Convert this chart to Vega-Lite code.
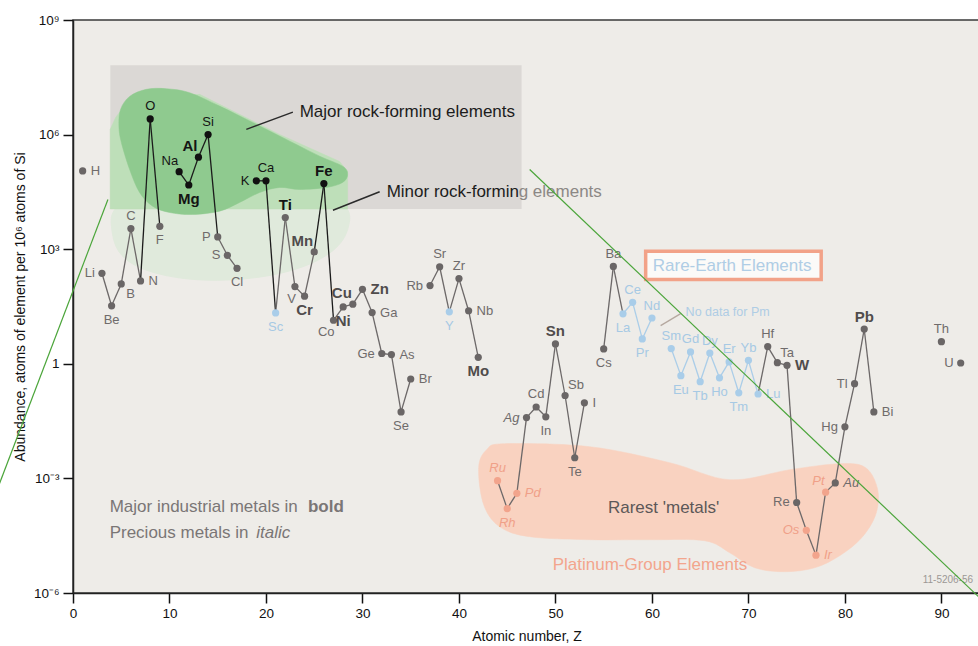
{
  "$schema": "https://vega.github.io/schema/vega-lite/v6.json",
  "width": 907,
  "height": 573,
  "autosize": {"type": "none"},
  "padding": {"left": 73, "top": 20, "right": 0, "bottom": 53},
  "background": "#ffffff",
  "config": {
    "font": "Liberation Sans",
    "view": {"stroke": "#3a3a3a", "strokeWidth": 1.5, "fill": "#eeece8"},
    "axis": {"grid": false}
  },
  "datasets": {
    "elements": [
      {"z": 1, "sym": "H", "v": 112000, "grp": "other", "metal": ""},
      {"z": 3, "sym": "Li", "v": 234, "grp": "other", "metal": ""},
      {"z": 4, "sym": "Be", "v": 33, "grp": "other", "metal": ""},
      {"z": 5, "sym": "B", "v": 123, "grp": "other", "metal": ""},
      {"z": 6, "sym": "C", "v": 3470, "grp": "other", "metal": ""},
      {"z": 7, "sym": "N", "v": 148, "grp": "other", "metal": ""},
      {"z": 8, "sym": "O", "v": 2570000, "grp": "major", "metal": ""},
      {"z": 9, "sym": "F", "v": 3980, "grp": "other", "metal": ""},
      {"z": 11, "sym": "Na", "v": 107000, "grp": "major", "metal": ""},
      {"z": 12, "sym": "Mg", "v": 47900, "grp": "major", "metal": "industrial"},
      {"z": 13, "sym": "Al", "v": 257000, "grp": "major", "metal": "industrial"},
      {"z": 14, "sym": "Si", "v": 1000000, "grp": "major", "metal": ""},
      {"z": 15, "sym": "P", "v": 2090, "grp": "other", "metal": ""},
      {"z": 16, "sym": "S", "v": 692, "grp": "other", "metal": ""},
      {"z": 17, "sym": "Cl", "v": 316, "grp": "other", "metal": ""},
      {"z": 19, "sym": "K", "v": 61700, "grp": "major", "metal": ""},
      {"z": 20, "sym": "Ca", "v": 61700, "grp": "major", "metal": ""},
      {"z": 21, "sym": "Sc", "v": 21.4, "grp": "ree", "metal": ""},
      {"z": 22, "sym": "Ti", "v": 6760, "grp": "other", "metal": "industrial"},
      {"z": 23, "sym": "V", "v": 105, "grp": "other", "metal": ""},
      {"z": 24, "sym": "Cr", "v": 58.9, "grp": "other", "metal": "industrial"},
      {"z": 25, "sym": "Mn", "v": 851, "grp": "other", "metal": "industrial"},
      {"z": 26, "sym": "Fe", "v": 52500, "grp": "major", "metal": "industrial"},
      {"z": 27, "sym": "Co", "v": 13.8, "grp": "other", "metal": ""},
      {"z": 28, "sym": "Ni", "v": 30.9, "grp": "other", "metal": "industrial"},
      {"z": 29, "sym": "Cu", "v": 36.3, "grp": "other", "metal": "industrial"},
      {"z": 30, "sym": "Zn", "v": 89, "grp": "other", "metal": "industrial"},
      {"z": 31, "sym": "Ga", "v": 21.9, "grp": "other", "metal": ""},
      {"z": 32, "sym": "Ge", "v": 1.86, "grp": "other", "metal": ""},
      {"z": 33, "sym": "As", "v": 1.74, "grp": "other", "metal": ""},
      {"z": 34, "sym": "Se", "v": 0.055, "grp": "other", "metal": ""},
      {"z": 35, "sym": "Br", "v": 0.4, "grp": "other", "metal": ""},
      {"z": 37, "sym": "Rb", "v": 112, "grp": "other", "metal": ""},
      {"z": 38, "sym": "Sr", "v": 347, "grp": "other", "metal": ""},
      {"z": 39, "sym": "Y", "v": 22.9, "grp": "ree", "metal": ""},
      {"z": 40, "sym": "Zr", "v": 170, "grp": "other", "metal": ""},
      {"z": 41, "sym": "Nb", "v": 24.5, "grp": "other", "metal": ""},
      {"z": 42, "sym": "Mo", "v": 1.48, "grp": "other", "metal": "industrial"},
      {"z": 44, "sym": "Ru", "v": 0.00087, "grp": "pge", "metal": "precious"},
      {"z": 45, "sym": "Rh", "v": 0.000162, "grp": "pge", "metal": "precious"},
      {"z": 46, "sym": "Pd", "v": 0.000407, "grp": "pge", "metal": "precious"},
      {"z": 47, "sym": "Ag", "v": 0.039, "grp": "other", "metal": "precious"},
      {"z": 48, "sym": "Cd", "v": 0.074, "grp": "other", "metal": ""},
      {"z": 49, "sym": "In", "v": 0.041, "grp": "other", "metal": ""},
      {"z": 50, "sym": "Sn", "v": 3.31, "grp": "other", "metal": "industrial"},
      {"z": 51, "sym": "Sb", "v": 0.148, "grp": "other", "metal": ""},
      {"z": 52, "sym": "Te", "v": 0.00347, "grp": "other", "metal": ""},
      {"z": 53, "sym": "I", "v": 0.095, "grp": "other", "metal": ""},
      {"z": 55, "sym": "Cs", "v": 2.45, "grp": "other", "metal": ""},
      {"z": 56, "sym": "Ba", "v": 355, "grp": "other", "metal": ""},
      {"z": 57, "sym": "La", "v": 20.4, "grp": "ree", "metal": ""},
      {"z": 58, "sym": "Ce", "v": 40.7, "grp": "ree", "metal": ""},
      {"z": 59, "sym": "Pr", "v": 4.47, "grp": "ree", "metal": ""},
      {"z": 60, "sym": "Nd", "v": 15.8, "grp": "ree", "metal": ""},
      {"z": 62, "sym": "Sm", "v": 2.51, "grp": "ree", "metal": ""},
      {"z": 63, "sym": "Eu", "v": 0.49, "grp": "ree", "metal": ""},
      {"z": 64, "sym": "Gd", "v": 2.04, "grp": "ree", "metal": ""},
      {"z": 65, "sym": "Tb", "v": 0.34, "grp": "ree", "metal": ""},
      {"z": 66, "sym": "Dy", "v": 1.91, "grp": "ree", "metal": ""},
      {"z": 67, "sym": "Ho", "v": 0.43, "grp": "ree", "metal": ""},
      {"z": 68, "sym": "Er", "v": 1.12, "grp": "ree", "metal": ""},
      {"z": 69, "sym": "Tm", "v": 0.174, "grp": "ree", "metal": ""},
      {"z": 70, "sym": "Yb", "v": 1.23, "grp": "ree", "metal": ""},
      {"z": 71, "sym": "Lu", "v": 0.162, "grp": "ree", "metal": ""},
      {"z": 72, "sym": "Hf", "v": 2.82, "grp": "other", "metal": ""},
      {"z": 73, "sym": "Ta", "v": 1.07, "grp": "other", "metal": ""},
      {"z": 74, "sym": "W", "v": 0.91, "grp": "other", "metal": "industrial"},
      {"z": 75, "sym": "Re", "v": 0.000234, "grp": "other", "metal": ""},
      {"z": 76, "sym": "Os", "v": 0.0000437, "grp": "pge", "metal": "precious"},
      {"z": 77, "sym": "Ir", "v": 0.0000098, "grp": "pge", "metal": "precious"},
      {"z": 78, "sym": "Pt", "v": 0.000437, "grp": "pge", "metal": "precious"},
      {"z": 79, "sym": "Au", "v": 0.00076, "grp": "other", "metal": "precious"},
      {"z": 80, "sym": "Hg", "v": 0.0224, "grp": "other", "metal": ""},
      {"z": 81, "sym": "Tl", "v": 0.302, "grp": "other", "metal": ""},
      {"z": 82, "sym": "Pb", "v": 8.13, "grp": "other", "metal": "industrial"},
      {"z": 83, "sym": "Bi", "v": 0.055, "grp": "other", "metal": ""},
      {"z": 90, "sym": "Th", "v": 3.8, "grp": "other", "metal": ""},
      {"z": 92, "sym": "U", "v": 1.05, "grp": "other", "metal": ""}
    ],
    "links": [
      {"a": 3, "b": 4}, {"a": 4, "b": 5}, {"a": 5, "b": 6}, {"a": 6, "b": 7}, {"a": 7, "b": 8}, {"a": 8, "b": 9},
      {"a": 11, "b": 12}, {"a": 12, "b": 13}, {"a": 13, "b": 14}, {"a": 14, "b": 15}, {"a": 15, "b": 16}, {"a": 16, "b": 17},
      {"a": 19, "b": 20}, {"a": 20, "b": 21}, {"a": 21, "b": 22}, {"a": 22, "b": 23}, {"a": 23, "b": 24}, {"a": 24, "b": 25},
      {"a": 25, "b": 26}, {"a": 26, "b": 27}, {"a": 27, "b": 28}, {"a": 28, "b": 29}, {"a": 29, "b": 30}, {"a": 30, "b": 31},
      {"a": 31, "b": 32}, {"a": 32, "b": 33}, {"a": 33, "b": 34}, {"a": 34, "b": 35},
      {"a": 37, "b": 38}, {"a": 38, "b": 39}, {"a": 39, "b": 40}, {"a": 40, "b": 41}, {"a": 41, "b": 42},
      {"a": 44, "b": 45}, {"a": 45, "b": 46}, {"a": 46, "b": 47}, {"a": 47, "b": 48}, {"a": 48, "b": 49}, {"a": 49, "b": 50},
      {"a": 50, "b": 51}, {"a": 51, "b": 52}, {"a": 52, "b": 53},
      {"a": 55, "b": 56}, {"a": 56, "b": 57}, {"a": 57, "b": 58}, {"a": 58, "b": 59}, {"a": 59, "b": 60},
      {"a": 62, "b": 63}, {"a": 63, "b": 64}, {"a": 64, "b": 65}, {"a": 65, "b": 66}, {"a": 66, "b": 67}, {"a": 67, "b": 68},
      {"a": 68, "b": 69}, {"a": 69, "b": 70}, {"a": 70, "b": 71}, {"a": 71, "b": 72}, {"a": 72, "b": 73}, {"a": 73, "b": 74},
      {"a": 74, "b": 75}, {"a": 75, "b": 76}, {"a": 76, "b": 77}, {"a": 77, "b": 78}, {"a": 78, "b": 79}, {"a": 79, "b": 80},
      {"a": 80, "b": 81}, {"a": 81, "b": 82}, {"a": 82, "b": 83}
    ],
    "shapes": [
      {"shape": "minorLow", "z": 3.87, "v": 40000},
      {"shape": "minorLow", "z": 28.6, "v": 40000},
      {"shape": "minorLow", "z": 28.9, "v": 4500},
      {"shape": "minorLow", "z": 27.6, "v": 1000},
      {"shape": "minorLow", "z": 24.0, "v": 320},
      {"shape": "minorLow", "z": 19.3, "v": 170},
      {"shape": "minorLow", "z": 13.5, "v": 140},
      {"shape": "minorLow", "z": 8.2, "v": 220},
      {"shape": "minorLow", "z": 4.6, "v": 600},
      {"shape": "minorLow", "z": 3.87, "v": 3500},
      {"shape": "minor", "z": 3.85, "v": 1370000},
      {"shape": "minor", "z": 4.42, "v": 2820000},
      {"shape": "minor", "z": 5.87, "v": 8360000},
      {"shape": "minor", "z": 13.12, "v": 11300000},
      {"shape": "minor", "z": 21.41, "v": 1010000},
      {"shape": "minor", "z": 27.63, "v": 198000},
      {"shape": "minor", "z": 28.46, "v": 108000},
      {"shape": "minor", "z": 28.46, "v": 11300},
      {"shape": "minor", "z": 3.85, "v": 11300},
      {"shape": "major", "z": 4.76, "v": 1670000},
      {"shape": "major", "z": 5.01, "v": 624000},
      {"shape": "major", "z": 5.87, "v": 122000},
      {"shape": "major", "z": 6.9, "v": 30500},
      {"shape": "major", "z": 8.25, "v": 13400},
      {"shape": "major", "z": 10.01, "v": 9140},
      {"shape": "major", "z": 12.39, "v": 8110},
      {"shape": "major", "z": 15.19, "v": 9890},
      {"shape": "major", "z": 17.26, "v": 16700},
      {"shape": "major", "z": 19.34, "v": 30500},
      {"shape": "major", "z": 21.41, "v": 41300},
      {"shape": "major", "z": 23.48, "v": 36600},
      {"shape": "major", "z": 26.25, "v": 41300},
      {"shape": "major", "z": 27.94, "v": 55800},
      {"shape": "major", "z": 28.46, "v": 90600},
      {"shape": "major", "z": 27.94, "v": 149000},
      {"shape": "major", "z": 25.56, "v": 273000},
      {"shape": "major", "z": 22.11, "v": 748000},
      {"shape": "major", "z": 18.62, "v": 2080000},
      {"shape": "major", "z": 15.19, "v": 5570000},
      {"shape": "major", "z": 12.09, "v": 12500000},
      {"shape": "major", "z": 9.67, "v": 15900000},
      {"shape": "major", "z": 7.6, "v": 15300000},
      {"shape": "major", "z": 5.87, "v": 10000000},
      {"shape": "major", "z": 4.93, "v": 4570000},
      {"shape": "pge", "z": 42.04, "v": 0.00191},
      {"shape": "pge", "z": 42.87, "v": 0.00565},
      {"shape": "pge", "z": 44.74, "v": 0.00811},
      {"shape": "pge", "z": 53.55, "v": 0.00677},
      {"shape": "pge", "z": 61.84, "v": 0.00258},
      {"shape": "pge", "z": 68.06, "v": 0.000924},
      {"shape": "pge", "z": 74.28, "v": 0.00169},
      {"shape": "pge", "z": 79.46, "v": 0.00243},
      {"shape": "pge", "z": 82.15, "v": 0.00191},
      {"shape": "pge", "z": 83.4, "v": 0.000506},
      {"shape": "pge", "z": 83.19, "v": 0.000112},
      {"shape": "pge", "z": 81.74, "v": 0.000028},
      {"shape": "pge", "z": 79.46, "v": 0.00000945},
      {"shape": "pge", "z": 76.87, "v": 0.00000458},
      {"shape": "pge", "z": 73.75, "v": 0.0000036},
      {"shape": "pge", "z": 70.64, "v": 0.00000458},
      {"shape": "pge", "z": 68.06, "v": 0.0000113},
      {"shape": "pge", "z": 65.47, "v": 0.0000233},
      {"shape": "pge", "z": 59.77, "v": 0.0000248},
      {"shape": "pge", "z": 53.55, "v": 0.0000248},
      {"shape": "pge", "z": 47.33, "v": 0.0000297},
      {"shape": "pge", "z": 44.22, "v": 0.0000543},
      {"shape": "pge", "z": 42.56, "v": 0.000205}
    ],
    "panels": [
      {"name": "rock", "z1": 3.87, "z2": 46.49, "v1": 11300, "v2": 64900000},
      {"name": "ree", "z1": 59.35, "z2": 77.54, "v1": 162, "v2": 881}
    ],
    "strokes": [
      {"name": "leaderMajor", "z1": 17.96, "v1": 1370000, "z2": 22.79, "v2": 3880000},
      {"name": "leaderMinor", "z1": 26.94, "v1": 10500, "z2": 31.78, "v2": 31900},
      {"name": "leaderPm", "z1": 60.9, "v1": 10.0, "z2": 62.98, "v2": 20.6},
      {"name": "greenLeft", "z1": 3.62, "v1": 20000, "z2": -8.0, "v2": 0.00041},
      {"name": "greenRight", "z1": 47.33, "v1": 122000, "z2": 94.47, "v2": 0.000000565}
    ],
    "notes": [
      {"note": "major", "text": "Major rock-forming elements", "z": 23.49, "v": 3810000},
      {"note": "minor", "text": "Minor rock-formin", "z": 32.51, "v": 31500},
      {"note": "minorTail", "text": "g elements", "z": 46.19, "v": 31500},
      {"note": "ree", "text": "Rare-Earth Elements", "z": 68.31, "v": 374},
      {"note": "pm", "text": "No data for Pm", "z": 63.49, "v": 23.3},
      {"note": "legend", "text": "Major industrial metals in", "z": 3.8, "v": 0.000182},
      {"note": "legendBold", "text": "bold", "z": 24.35, "v": 0.000182},
      {"note": "legend", "text": "Precious metals in", "z": 3.8, "v": 0.0000378},
      {"note": "legendItalic", "text": "italic", "z": 19.0, "v": 0.0000378},
      {"note": "rarest", "text": "Rarest 'metals'", "z": 55.44, "v": 0.000171},
      {"note": "pgeTitle", "text": "Platinum-Group Elements", "z": 49.71, "v": 0.00000548},
      {"note": "code", "text": "11-5206-56", "z": 88.06, "v": 0.00000222}
    ]
  },
  "layer": [
    {
      "data": {"name": "shapes"},
      "transform": [{"filter": "datum.shape === 'minorLow'"}],
      "mark": {"type": "line", "interpolate": "basis-closed", "fill": "#e0eadc", "stroke": "#e0eadc", "strokeWidth": 1},
      "encoding": {
        "x": {"field": "z", "type": "quantitative", "scale": {"domain": [0, 94], "nice": false}},
        "y": {"field": "v", "type": "quantitative", "scale": {"type": "log", "domain": [0.000001, 1000000000], "nice": false}},
        "order": {"value": null}
      }
    },
    {
      "data": {"name": "panels"},
      "transform": [{"filter": "datum.name === 'rock'"}],
      "mark": {"type": "rect", "fill": "#dbd8d5"},
      "encoding": {
        "x": {"field": "z1", "type": "quantitative", "scale": {"domain": [0, 94], "nice": false}},
        "x2": {"field": "z2"},
        "y": {"field": "v1", "type": "quantitative", "scale": {"type": "log", "domain": [0.000001, 1000000000], "nice": false}},
        "y2": {"field": "v2"}
      }
    },
    {
      "data": {"name": "shapes"},
      "transform": [{"filter": "datum.shape === 'minor'"}],
      "mark": {"type": "line", "interpolate": "linear-closed", "fill": "#bedfb9", "stroke": "#bedfb9", "strokeWidth": 0.5},
      "encoding": {
        "x": {"field": "z", "type": "quantitative", "scale": {"domain": [0, 94], "nice": false}},
        "y": {"field": "v", "type": "quantitative", "scale": {"type": "log", "domain": [0.000001, 1000000000], "nice": false}},
        "order": {"value": null}
      }
    },
    {
      "data": {"name": "shapes"},
      "transform": [{"filter": "datum.shape === 'major'"}],
      "mark": {"type": "line", "interpolate": "cardinal-closed", "fill": "#8fca8f", "stroke": "#8fca8f", "strokeWidth": 0.5},
      "encoding": {
        "x": {"field": "z", "type": "quantitative", "scale": {"domain": [0, 94], "nice": false}},
        "y": {"field": "v", "type": "quantitative", "scale": {"type": "log", "domain": [0.000001, 1000000000], "nice": false}},
        "order": {"value": null}
      }
    },
    {
      "data": {"name": "shapes"},
      "transform": [{"filter": "datum.shape === 'pge'"}],
      "mark": {"type": "line", "interpolate": "cardinal-closed", "fill": "#f9d2c0", "stroke": "#f9d2c0", "strokeWidth": 0.5},
      "encoding": {
        "x": {"field": "z", "type": "quantitative", "scale": {"domain": [0, 94], "nice": false}},
        "y": {"field": "v", "type": "quantitative", "scale": {"type": "log", "domain": [0.000001, 1000000000], "nice": false}},
        "order": {"value": null}
      }
    },
    {
      "data": {"name": "panels"},
      "transform": [{"filter": "datum.name === 'ree'"}],
      "mark": {"type": "rect", "fill": "#fbfaf8", "stroke": "#f2a288", "strokeWidth": 3.5},
      "encoding": {
        "x": {"field": "z1", "type": "quantitative", "scale": {"domain": [0, 94], "nice": false}},
        "x2": {"field": "z2"},
        "y": {"field": "v1", "type": "quantitative", "scale": {"type": "log", "domain": [0.000001, 1000000000], "nice": false}},
        "y2": {"field": "v2"}
      }
    },
    {
      "data": {"name": "links"},
      "transform": [
        {"lookup": "a", "from": {"data": {"name": "elements"}, "key": "z", "fields": ["v", "grp"]}, "as": ["va", "ga"]},
        {"lookup": "b", "from": {"data": {"name": "elements"}, "key": "z", "fields": ["v", "grp"]}, "as": ["vb", "gb"]}
      ],
      "mark": {"type": "rule", "strokeWidth": 1.3},
      "encoding": {
        "x": {"field": "a", "type": "quantitative", "scale": {"domain": [0, 94], "nice": false}},
        "x2": {"field": "b"},
        "y": {"field": "va", "type": "quantitative", "scale": {"type": "log", "domain": [0.000001, 1000000000], "nice": false}},
        "y2": {"field": "vb"},
        "color": {
          "condition": [
            {"test": "datum.ga === 'major' || datum.gb === 'major'", "value": "#1b1b1b"},
            {"test": "datum.ga === 'ree' && datum.gb === 'ree'", "value": "#aacde8"}
          ],
          "value": "#6c6868"
        }
      }
    },
    {
      "data": {"name": "elements"},
      "mark": {"type": "circle", "size": 52, "opacity": 1},
      "encoding": {
        "x": {
          "field": "z", "type": "quantitative",
          "scale": {"domain": [0, 94], "nice": false},
          "axis": {
            "title": "Atomic number, Z", "values": [0, 10, 20, 30, 40, 50, 60, 70, 80, 90],
            "grid": false, "tickSize": 10, "tickWidth": 1.5, "tickColor": "#111111",
            "domainColor": "#222222", "domainWidth": 1.5,
            "labelFontSize": 13.5, "labelColor": "#111111", "labelPadding": 3, "labelFlush": false,
            "titleFontSize": 14, "titleFontWeight": "normal", "titleColor": "#111111", "titlePadding": 10
          }
        },
        "y": {
          "field": "v", "type": "quantitative",
          "scale": {"type": "log", "domain": [0.000001, 1000000000], "nice": false},
          "axis": {
            "title": "Abundance, atoms of element per 10⁶ atoms of Si",
            "values": [0.000001, 0.001, 1, 1000, 1000000, 1000000000],
            "labelExpr": "datum.value >= 5e8 ? '10⁹' : datum.value >= 5e5 ? '10⁶' : datum.value >= 500 ? '10³' : datum.value >= 0.5 ? '1' : datum.value >= 5e-4 ? '10⁻³' : '10⁻⁶'",
            "grid": false, "tickSize": 10, "tickWidth": 1.5, "tickColor": "#111111",
            "domainColor": "#222222", "domainWidth": 1.5,
            "labelFontSize": 13.5, "labelColor": "#111111", "labelPadding": 4, "labelFlush": false,
            "titleFontSize": 14, "titleFontWeight": "normal", "titleColor": "#111111", "titlePadding": 6
          }
        },
        "color": {
          "condition": [
            {"test": "datum.grp === 'major'", "value": "#111111"},
            {"test": "datum.grp === 'ree'", "value": "#a9cde9"},
            {"test": "datum.grp === 'pge'", "value": "#f2a48c"}
          ],
          "value": "#6a6666"
        }
      }
    },
    {
      "data": {"name": "elements"},
      "transform": [{"filter": "indexof(['C','O','Si','Ca','Ti','Fe','Sr','Zr','Ru','Cd','Sn','Ba','Ce','Nd','Sm','Gd','Dy','Er','Yb','Hf','Pb','Th'], datum.sym) >= 0"}],
      "mark": {"type": "text", "align": "center", "baseline": "middle", "dy": -12.5,
        "fontSize": {"expr": "datum.metal === 'industrial' ? 15 : 13"},
        "fontWeight": {"expr": "datum.metal === 'industrial' ? 'bold' : 'normal'"},
        "fontStyle": {"expr": "datum.metal === 'precious' ? 'italic' : 'normal'"}},
      "encoding": {
        "x": {"field": "z", "type": "quantitative", "scale": {"domain": [0, 94], "nice": false}},
        "y": {"field": "v", "type": "quantitative", "scale": {"type": "log", "domain": [0.000001, 1000000000], "nice": false}},
        "text": {"field": "sym"},
        "color": {"condition": [
          {"test": "datum.grp === 'major' || datum.sym === 'Ti'", "value": "#141414"},
          {"test": "datum.grp === 'ree'", "value": "#a6c9e4"},
          {"test": "datum.grp === 'pge'", "value": "#f0a088"},
          {"test": "datum.metal === 'industrial'", "value": "#504c4c"}
        ], "value": "#6f6b6b"}
      }
    },
    {
      "data": {"name": "elements"},
      "transform": [{"filter": "indexof(['Be','F','Mg','Cl','Sc','Cr','Ni','Se','Y','Mo','Rh','In','Te','Cs','La','Pr','Eu','Tb','Ho','Tm'], datum.sym) >= 0"}],
      "mark": {"type": "text", "align": "center", "baseline": "middle", "dy": 14,
        "fontSize": {"expr": "datum.metal === 'industrial' ? 15 : 13"},
        "fontWeight": {"expr": "datum.metal === 'industrial' ? 'bold' : 'normal'"},
        "fontStyle": {"expr": "datum.metal === 'precious' ? 'italic' : 'normal'"}},
      "encoding": {
        "x": {"field": "z", "type": "quantitative", "scale": {"domain": [0, 94], "nice": false}},
        "y": {"field": "v", "type": "quantitative", "scale": {"type": "log", "domain": [0.000001, 1000000000], "nice": false}},
        "text": {"field": "sym"},
        "color": {"condition": [
          {"test": "datum.grp === 'major' || datum.sym === 'Ti'", "value": "#141414"},
          {"test": "datum.grp === 'ree'", "value": "#a6c9e4"},
          {"test": "datum.grp === 'pge'", "value": "#f0a088"},
          {"test": "datum.metal === 'industrial'", "value": "#504c4c"}
        ], "value": "#6f6b6b"}
      }
    },
    {
      "data": {"name": "elements"},
      "transform": [{"filter": "indexof(['Li','P','S','K','Ge','Rb','Ag','Re','Os','Hg','Tl','U'], datum.sym) >= 0"}],
      "mark": {"type": "text", "align": "right", "baseline": "middle", "dx": -7,
        "fontSize": {"expr": "datum.metal === 'industrial' ? 15 : 13"},
        "fontWeight": {"expr": "datum.metal === 'industrial' ? 'bold' : 'normal'"},
        "fontStyle": {"expr": "datum.metal === 'precious' ? 'italic' : 'normal'"}},
      "encoding": {
        "x": {"field": "z", "type": "quantitative", "scale": {"domain": [0, 94], "nice": false}},
        "y": {"field": "v", "type": "quantitative", "scale": {"type": "log", "domain": [0.000001, 1000000000], "nice": false}},
        "text": {"field": "sym"},
        "color": {"condition": [
          {"test": "datum.grp === 'major' || datum.sym === 'Ti'", "value": "#141414"},
          {"test": "datum.grp === 'ree'", "value": "#a6c9e4"},
          {"test": "datum.grp === 'pge'", "value": "#f0a088"},
          {"test": "datum.metal === 'industrial'", "value": "#504c4c"}
        ], "value": "#6f6b6b"}
      }
    },
    {
      "data": {"name": "elements"},
      "transform": [{"filter": "indexof(['H','N','Zn','Ga','As','Br','Nb','Pd','I','Lu','W','Ir','Au','Bi'], datum.sym) >= 0"}],
      "mark": {"type": "text", "align": "left", "baseline": "middle", "dx": 8,
        "fontSize": {"expr": "datum.metal === 'industrial' ? 15 : 13"},
        "fontWeight": {"expr": "datum.metal === 'industrial' ? 'bold' : 'normal'"},
        "fontStyle": {"expr": "datum.metal === 'precious' ? 'italic' : 'normal'"}},
      "encoding": {
        "x": {"field": "z", "type": "quantitative", "scale": {"domain": [0, 94], "nice": false}},
        "y": {"field": "v", "type": "quantitative", "scale": {"type": "log", "domain": [0.000001, 1000000000], "nice": false}},
        "text": {"field": "sym"},
        "color": {"condition": [
          {"test": "datum.grp === 'major' || datum.sym === 'Ti'", "value": "#141414"},
          {"test": "datum.grp === 'ree'", "value": "#a6c9e4"},
          {"test": "datum.grp === 'pge'", "value": "#f0a088"},
          {"test": "datum.metal === 'industrial'", "value": "#504c4c"}
        ], "value": "#6f6b6b"}
      }
    },
    {
      "data": {"name": "elements"},
      "transform": [{"filter": "indexof(['Na','Al','Mn','Cu','Pt'], datum.sym) >= 0"}],
      "mark": {"type": "text", "align": "right", "baseline": "middle", "dx": -1, "dy": -11,
        "fontSize": {"expr": "datum.metal === 'industrial' ? 15 : 13"},
        "fontWeight": {"expr": "datum.metal === 'industrial' ? 'bold' : 'normal'"},
        "fontStyle": {"expr": "datum.metal === 'precious' ? 'italic' : 'normal'"}},
      "encoding": {
        "x": {"field": "z", "type": "quantitative", "scale": {"domain": [0, 94], "nice": false}},
        "y": {"field": "v", "type": "quantitative", "scale": {"type": "log", "domain": [0.000001, 1000000000], "nice": false}},
        "text": {"field": "sym"},
        "color": {"condition": [
          {"test": "datum.grp === 'major' || datum.sym === 'Ti'", "value": "#141414"},
          {"test": "datum.grp === 'ree'", "value": "#a6c9e4"},
          {"test": "datum.grp === 'pge'", "value": "#f0a088"},
          {"test": "datum.metal === 'industrial'", "value": "#504c4c"}
        ], "value": "#6f6b6b"}
      }
    },
    {
      "data": {"name": "elements"},
      "transform": [{"filter": "indexof(['Sb','Ta'], datum.sym) >= 0"}],
      "mark": {"type": "text", "align": "left", "baseline": "middle", "dx": 3, "dy": -10, "fontSize": 13},
      "encoding": {
        "x": {"field": "z", "type": "quantitative", "scale": {"domain": [0, 94], "nice": false}},
        "y": {"field": "v", "type": "quantitative", "scale": {"type": "log", "domain": [0.000001, 1000000000], "nice": false}},
        "text": {"field": "sym"},
        "color": {"value": "#6f6b6b"}
      }
    },
    {
      "data": {"name": "elements"},
      "transform": [{"filter": "indexof(['V','Co'], datum.sym) >= 0"}],
      "mark": {"type": "text", "align": "right", "baseline": "middle", "dx": 1, "dy": 12, "fontSize": 13},
      "encoding": {
        "x": {"field": "z", "type": "quantitative", "scale": {"domain": [0, 94], "nice": false}},
        "y": {"field": "v", "type": "quantitative", "scale": {"type": "log", "domain": [0.000001, 1000000000], "nice": false}},
        "text": {"field": "sym"},
        "color": {"value": "#6f6b6b"}
      }
    },
    {
      "data": {"name": "elements"},
      "transform": [{"filter": "datum.sym === 'B'"}],
      "mark": {"type": "text", "align": "left", "baseline": "middle", "dx": 5, "dy": 10, "fontSize": 13},
      "encoding": {
        "x": {"field": "z", "type": "quantitative", "scale": {"domain": [0, 94], "nice": false}},
        "y": {"field": "v", "type": "quantitative", "scale": {"type": "log", "domain": [0.000001, 1000000000], "nice": false}},
        "text": {"field": "sym"},
        "color": {"value": "#6f6b6b"}
      }
    },
    {
      "data": {"name": "strokes"},
      "transform": [{"filter": "indexof(['leaderMajor','leaderMinor'], datum.name) >= 0"}],
      "mark": {"type": "rule", "color": "#2a2a2a", "strokeWidth": 1.5},
      "encoding": {
        "x": {"field": "z1", "type": "quantitative", "scale": {"domain": [0, 94], "nice": false}},
        "x2": {"field": "z2"},
        "y": {"field": "v1", "type": "quantitative", "scale": {"type": "log", "domain": [0.000001, 1000000000], "nice": false}},
        "y2": {"field": "v2"}
      }
    },
    {
      "data": {"name": "strokes"},
      "transform": [{"filter": "datum.name === 'leaderPm'"}],
      "mark": {"type": "rule", "color": "#b5a89f", "strokeWidth": 1.3},
      "encoding": {
        "x": {"field": "z1", "type": "quantitative", "scale": {"domain": [0, 94], "nice": false}},
        "x2": {"field": "z2"},
        "y": {"field": "v1", "type": "quantitative", "scale": {"type": "log", "domain": [0.000001, 1000000000], "nice": false}},
        "y2": {"field": "v2"}
      }
    },
    {
      "data": {"name": "notes"},
      "transform": [{"filter": "indexof(['major','minor'], datum.note) >= 0"}],
      "mark": {"type": "text", "align": "left", "baseline": "middle", "fontSize": 17, "color": "#1c1c1c"},
      "encoding": {
        "x": {"field": "z", "type": "quantitative", "scale": {"domain": [0, 94], "nice": false}},
        "y": {"field": "v", "type": "quantitative", "scale": {"type": "log", "domain": [0.000001, 1000000000], "nice": false}},
        "text": {"field": "text"}
      }
    },
    {
      "data": {"name": "notes"},
      "transform": [{"filter": "datum.note === 'minorTail'"}],
      "mark": {"type": "text", "align": "left", "baseline": "middle", "fontSize": 17, "color": "#8c8885"},
      "encoding": {
        "x": {"field": "z", "type": "quantitative", "scale": {"domain": [0, 94], "nice": false}},
        "y": {"field": "v", "type": "quantitative", "scale": {"type": "log", "domain": [0.000001, 1000000000], "nice": false}},
        "text": {"field": "text"}
      }
    },
    {
      "data": {"name": "notes"},
      "transform": [{"filter": "datum.note === 'ree'"}],
      "mark": {"type": "text", "align": "center", "baseline": "middle", "fontSize": 17, "color": "#afcde5"},
      "encoding": {
        "x": {"field": "z", "type": "quantitative", "scale": {"domain": [0, 94], "nice": false}},
        "y": {"field": "v", "type": "quantitative", "scale": {"type": "log", "domain": [0.000001, 1000000000], "nice": false}},
        "text": {"field": "text"}
      }
    },
    {
      "data": {"name": "notes"},
      "transform": [{"filter": "datum.note === 'pm'"}],
      "mark": {"type": "text", "align": "left", "baseline": "middle", "fontSize": 12.5, "color": "#afcde5"},
      "encoding": {
        "x": {"field": "z", "type": "quantitative", "scale": {"domain": [0, 94], "nice": false}},
        "y": {"field": "v", "type": "quantitative", "scale": {"type": "log", "domain": [0.000001, 1000000000], "nice": false}},
        "text": {"field": "text"}
      }
    },
    {
      "data": {"name": "notes"},
      "transform": [{"filter": "datum.note === 'legend'"}],
      "mark": {"type": "text", "align": "left", "baseline": "middle", "fontSize": 17, "color": "#7a7676"},
      "encoding": {
        "x": {"field": "z", "type": "quantitative", "scale": {"domain": [0, 94], "nice": false}},
        "y": {"field": "v", "type": "quantitative", "scale": {"type": "log", "domain": [0.000001, 1000000000], "nice": false}},
        "text": {"field": "text"}
      }
    },
    {
      "data": {"name": "notes"},
      "transform": [{"filter": "datum.note === 'legendBold'"}],
      "mark": {"type": "text", "align": "left", "baseline": "middle", "fontSize": 17, "fontWeight": "bold", "color": "#7a7676"},
      "encoding": {
        "x": {"field": "z", "type": "quantitative", "scale": {"domain": [0, 94], "nice": false}},
        "y": {"field": "v", "type": "quantitative", "scale": {"type": "log", "domain": [0.000001, 1000000000], "nice": false}},
        "text": {"field": "text"}
      }
    },
    {
      "data": {"name": "notes"},
      "transform": [{"filter": "datum.note === 'legendItalic'"}],
      "mark": {"type": "text", "align": "left", "baseline": "middle", "fontSize": 17, "fontStyle": "italic", "color": "#7a7676"},
      "encoding": {
        "x": {"field": "z", "type": "quantitative", "scale": {"domain": [0, 94], "nice": false}},
        "y": {"field": "v", "type": "quantitative", "scale": {"type": "log", "domain": [0.000001, 1000000000], "nice": false}},
        "text": {"field": "text"}
      }
    },
    {
      "data": {"name": "notes"},
      "transform": [{"filter": "datum.note === 'rarest'"}],
      "mark": {"type": "text", "align": "left", "baseline": "middle", "fontSize": 17, "color": "#5c5858"},
      "encoding": {
        "x": {"field": "z", "type": "quantitative", "scale": {"domain": [0, 94], "nice": false}},
        "y": {"field": "v", "type": "quantitative", "scale": {"type": "log", "domain": [0.000001, 1000000000], "nice": false}},
        "text": {"field": "text"}
      }
    },
    {
      "data": {"name": "notes"},
      "transform": [{"filter": "datum.note === 'pgeTitle'"}],
      "mark": {"type": "text", "align": "left", "baseline": "middle", "fontSize": 17, "color": "#f3a58d"},
      "encoding": {
        "x": {"field": "z", "type": "quantitative", "scale": {"domain": [0, 94], "nice": false}},
        "y": {"field": "v", "type": "quantitative", "scale": {"type": "log", "domain": [0.000001, 1000000000], "nice": false}},
        "text": {"field": "text"}
      }
    },
    {
      "data": {"name": "notes"},
      "transform": [{"filter": "datum.note === 'code'"}],
      "mark": {"type": "text", "align": "left", "baseline": "middle", "fontSize": 10, "color": "#9c9895"},
      "encoding": {
        "x": {"field": "z", "type": "quantitative", "scale": {"domain": [0, 94], "nice": false}},
        "y": {"field": "v", "type": "quantitative", "scale": {"type": "log", "domain": [0.000001, 1000000000], "nice": false}},
        "text": {"field": "text"}
      }
    },
    {
      "data": {"name": "strokes"},
      "transform": [{"filter": "indexof(['greenLeft','greenRight'], datum.name) >= 0"}],
      "mark": {"type": "rule", "color": "#4ba53a", "strokeWidth": 1.2},
      "encoding": {
        "x": {"field": "z1", "type": "quantitative", "scale": {"domain": [0, 94], "nice": false}},
        "x2": {"field": "z2"},
        "y": {"field": "v1", "type": "quantitative", "scale": {"type": "log", "domain": [0.000001, 1000000000], "nice": false}},
        "y2": {"field": "v2"}
      }
    }
  ]
}
